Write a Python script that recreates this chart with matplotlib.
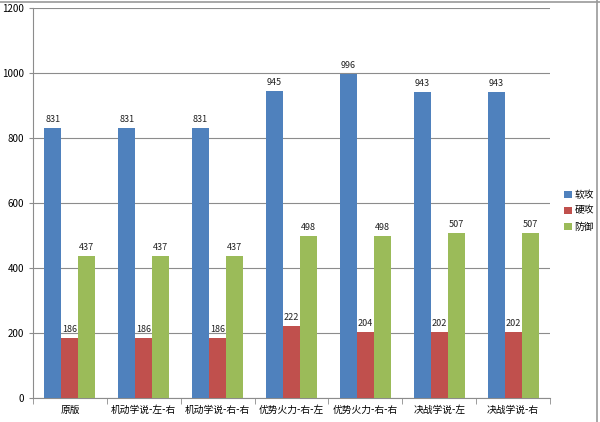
import matplotlib
matplotlib.use("Agg")
import matplotlib.pyplot as plt
import numpy as np

plt.rcParams['font.family'] = ['Noto Sans CJK SC', 'DejaVu Sans']

categories = ["原版", "机动学说-左-右", "机动学说-右-右", "优势火力-右-左",
              "优势火力-右-右", "决战学说-左", "决战学说-右"]
soft_attack = [831, 831, 831, 945, 996, 943, 943]
hard_attack = [186, 186, 186, 222, 204, 202, 202]
defense = [437, 437, 437, 498, 498, 507, 507]
series_names = ["软攻", "硬攻", "防御"]
colors = ["#4F81BD", "#C0504D", "#9BBB59"]

fig = plt.figure(figsize=(6, 4.22), dpi=100)
ax = fig.add_axes([33/600, 1 - 398/422, (550-33)/600, (398-8)/422])

x = np.arange(len(categories))
w = 0.23
for i, (vals, name, c) in enumerate(zip([soft_attack, hard_attack, defense], series_names, colors)):
    pos = x + (i - 1) * w
    bars = ax.bar(pos, vals, w, color=c, label=name, zorder=3)
    for p, v in zip(pos, vals):
        ax.text(p, v + 12, str(v), ha='center', va='bottom', fontsize=6.5, color='#222222')

ax.set_xlim(-0.5, len(categories) - 0.5)
ax.set_ylim(0, 1200)
ax.set_yticks(range(0, 1201, 200))
ax.yaxis.grid(True, color='#8c8c8c', linewidth=0.8, zorder=0)
ax.set_xticks(x)
ax.set_xticklabels(categories, fontsize=7)
ax.tick_params(axis='y', labelsize=7, length=3, color='#8c8c8c')
ax.tick_params(axis='x', length=0, pad=5)
ax.set_xticks(np.arange(-0.5, len(categories), 1), minor=True)
ax.tick_params(axis='x', which='minor', length=4, color='#8c8c8c')
for s in ['top', 'right']:
    ax.spines[s].set_visible(False)
for s in ['left', 'bottom']:
    ax.spines[s].set_color('#8c8c8c')

leg = ax.legend(loc='center left', bbox_to_anchor=(1.01, 0.48), frameon=False,
                fontsize=7, handlelength=0.8, handleheight=0.8, handletextpad=0.3,
                labelspacing=0.6)

# outer frame lines
fig.add_artist(plt.Line2D([0, 1], [1 - 1.5/422, 1 - 1.5/422], color='#9a9a9a', linewidth=1.2))
fig.add_artist(plt.Line2D([597/600, 597/600], [0, 1], color='#9a9a9a', linewidth=1.2))

fig.savefig("out.png", dpi=100)
